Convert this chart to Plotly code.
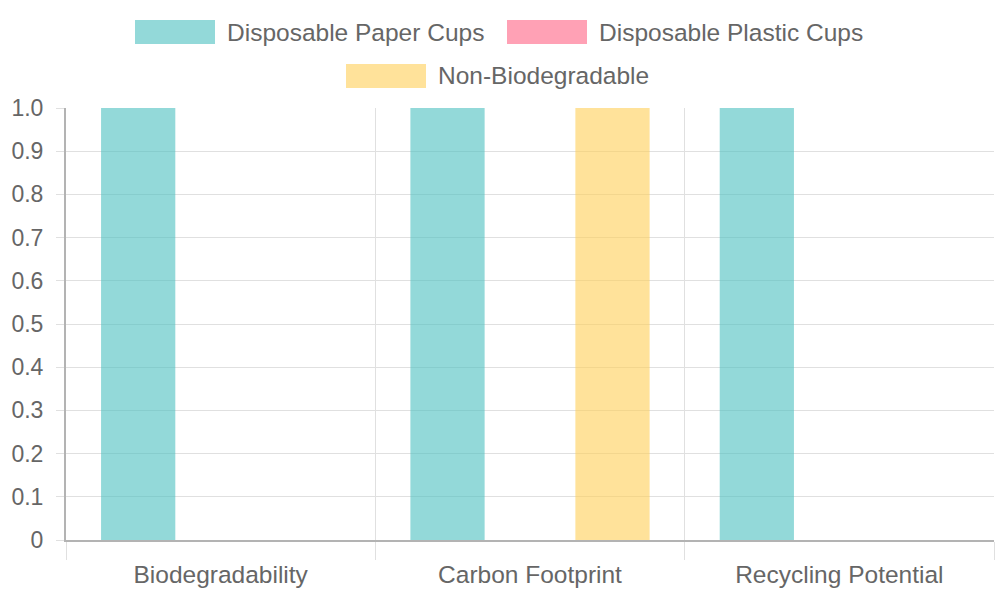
import plotly.graph_objects as go

categories = ["Biodegradability", "Carbon Footprint", "Recycling Potential"]
series_names = ["Disposable Paper Cups", "Disposable Plastic Cups", "Non-Biodegradable"]
paper_cups = [1, 1, 1]
plastic_cups = [0, 0, 0]
non_biodegradable = [0, 1, 0]
colors = ["rgba(75,192,192,0.6)", "rgba(255,99,132,0.6)", "rgba(255,206,86,0.6)"]
y_tickvals = [0, 0.1, 0.2, 0.3, 0.4, 0.5, 0.6, 0.7, 0.8, 0.9, 1.0]
y_ticktext = ["0", "0.1", "0.2", "0.3", "0.4", "0.5", "0.6", "0.7", "0.8", "0.9", "1.0"]

FONT = "Liberation Sans"
W, H = 1000, 600
L, R, T, B = 66, 6, 108, 60
PW, PH = W - L - R, H - T - B

def px(x):
    return (x - L) / PW

def py(y):
    return (H - B - y) / PH

fig = go.Figure()
for name, vals, col in zip(series_names, [paper_cups, plastic_cups, non_biodegradable], colors):
    fig.add_trace(go.Bar(x=categories, y=vals, name=name, marker=dict(color=col, line=dict(width=0)),
                         showlegend=False))

# custom legend (Chart.js style)
legend_items = [
    (135, 20, 0),
    (507, 20, 1),
    (346, 64, 2),
]
shapes = []
annotations = []
for x0, y0, i in legend_items:
    shapes.append(dict(type="rect", xref="paper", yref="paper",
                       x0=px(x0), x1=px(x0 + 80), y0=py(y0), y1=py(y0 + 24),
                       fillcolor=colors[i], line=dict(width=0), layer="above"))
    annotations.append(dict(xref="paper", yref="paper", x=px(x0 + 90), y=py(y0 + 12),
                            text=series_names[i], showarrow=False, xanchor="left", yanchor="middle",
                            font=dict(family=FONT, size=24.5, color="#666666")))

fig.update_layout(
    width=W, height=H,
    margin=dict(l=L, r=R, t=T, b=B),
    paper_bgcolor="white", plot_bgcolor="white",
    barmode="group", bargap=0.2, bargroupgap=0.1,
    shapes=shapes, annotations=annotations,
    font=dict(family=FONT, size=22, color="#666666"),
    xaxis=dict(
        type="category", tickson="boundaries", showgrid=True, gridcolor="#e0e0e0", gridwidth=1,
        ticks="outside", ticklen=18, tickcolor="#e0e0e0", tickwidth=1,
        showline=True, linecolor="#b3b3b3", linewidth=2, mirror=False,
        tickfont=dict(family=FONT, size=24.5, color="#666666"),
        zeroline=False, ticklabelstandoff=12,
    ),
    yaxis=dict(
        range=[0, 1], tickvals=y_tickvals, ticktext=y_ticktext,
        showgrid=True, gridcolor="#e0e0e0", gridwidth=1,
        ticks="outside", ticklen=8, tickcolor="#e0e0e0", tickwidth=1,
        showline=True, linecolor="#b3b3b3", linewidth=2,
        zeroline=False, ticklabelstandoff=8,
        tickfont=dict(family=FONT, size=23, color="#666666"),
    ),
)

fig.write_html("out.html")
